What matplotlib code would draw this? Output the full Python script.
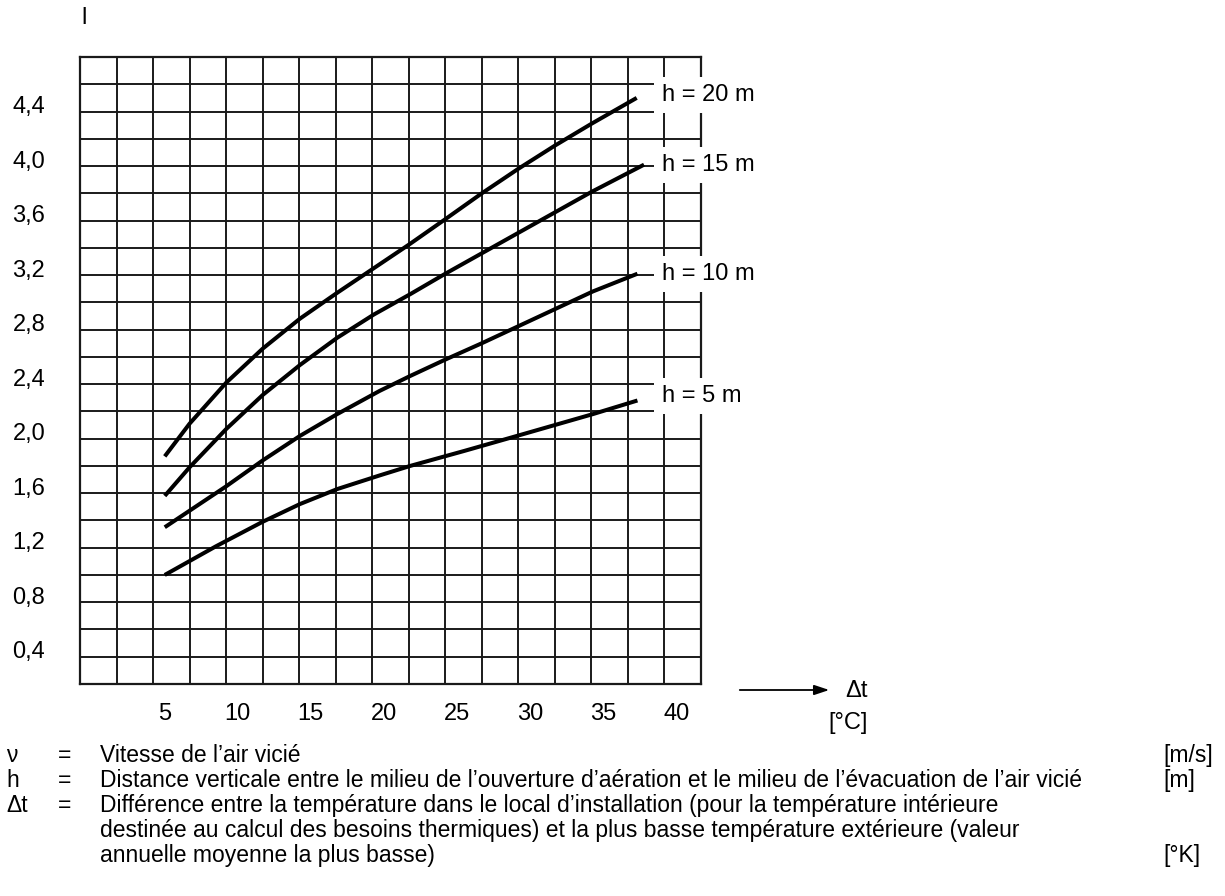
import numpy as np
import matplotlib
matplotlib.use('Agg')
import matplotlib.pyplot as plt

plt.rcParams['font.family'] = ['Liberation Sans', 'DejaVu Sans']

#%% values

x_h20 = [5, 6.7, 9.2, 11.7, 14.25, 16.8, 19.3, 21.8, 24.2, 26.7, 29.2, 31.7, 34.2, 37.3]
y_h20 = [1.82, 2.06, 2.36, 2.61, 2.83, 3.02, 3.20, 3.38, 3.56, 3.75, 3.93, 4.10, 4.26, 4.45]

x_h15 = [5, 6.7, 9.2, 11.7, 14.25, 16.8, 19.3, 21.8, 24.2, 26.7, 29.2, 31.7, 34.2, 37.8]
y_h15 = [1.53, 1.74, 2.02, 2.27, 2.49, 2.69, 2.86, 3.01, 3.16, 3.31, 3.46, 3.61, 3.76, 3.96]

x_h10 = [5, 9.2, 11.7, 14.25, 16.8, 19.7, 21.8, 24.2, 26.7, 29.1, 31.7, 34.3, 37.35]
y_h10 = [1.30, 1.60, 1.79, 1.97, 2.13, 2.30, 2.41, 2.53, 2.65, 2.77, 2.90, 3.03, 3.16]

x_h5 = [5, 8.5, 11.7, 14.25, 16.8, 19.7, 21.8, 25.5, 29.1, 34.3, 37.35]
y_h5 = [0.95, 1.16, 1.34, 1.47, 1.58, 1.68, 1.75, 1.86, 1.97, 2.13, 2.23]

curve_labels = ['h = 20 m', 'h = 15 m', 'h = 10 m', 'h = 5 m']
label_y = [4.47, 3.96, 3.16, 2.26]

x_ticks = [5, 10, 15, 20, 25, 30, 35, 40]
y_ticks = [0.4, 0.8, 1.2, 1.6, 2.0, 2.4, 2.8, 3.2, 3.6, 4.0, 4.4]
y_tick_labels = ['0,4', '0,8', '1,2', '1,6', '2,0', '2,4', '2,8', '3,2', '3,6', '4,0', '4,4']

notes_sym = ['\u03bd', 'h', '\u0394t', '', '']
notes_txt = ['Vitesse de l\u2019air vici\u00e9',
             'Distance verticale entre le milieu de l\u2019ouverture d\u2019a\u00e9ration et le milieu de l\u2019\u00e9vacuation de l\u2019air vici\u00e9',
             'Diff\u00e9rence entre la temp\u00e9rature dans le local d\u2019installation (pour la temp\u00e9rature int\u00e9rieure',
             'destin\u00e9e au calcul des besoins thermiques) et la plus basse temp\u00e9rature ext\u00e9rieure (valeur',
             'annuelle moyenne la plus basse)']
notes_unit = ['[m/s]', '[m]', '', '', '[\u00b0K]']

#%% figure

W, H = 1225, 896
fig = plt.figure(figsize=(W / 100, H / 100), dpi=100)
ax = fig.add_axes([80 / W, 1 - 684 / H, 621 / W, 627 / H])

x_min, x_max = -0.8, 41.7
y_min, y_max = 0.15, 4.75
ax.set_xlim(x_min, x_max)
ax.set_ylim(y_min, y_max)

# grid: 17 columns of 2.5, 23 rows of 0.2
for gx in np.arange(x_min, x_max + 0.01, 2.5):
    ax.axvline(gx, color='#1a1a1a', lw=1.4, zorder=1)
for gy in np.arange(y_min, y_max + 0.01, 0.2):
    ax.axhline(gy, color='#1a1a1a', lw=1.4, zorder=1)

for s in ax.spines.values():
    s.set_linewidth(1.6)
    s.set_color('#1a1a1a')

curves = [(x_h20, y_h20), (x_h15, y_h15), (x_h10, y_h10), (x_h5, y_h5)]
for (cx, cy), lab, ly in zip(curves, curve_labels, label_y):
    ax.plot(cx, cy, color='black', lw=2.9, solid_capstyle='butt',
            solid_joinstyle='round', zorder=3)
    ax.text(39.0, ly, lab, fontsize=17, va='center', ha='left', zorder=5,
            clip_on=False,
            bbox=dict(boxstyle='square,pad=0.3', fc='white', ec='none'))

ax.set_xticks(x_ticks)
ax.set_xticklabels([str(v) for v in x_ticks], fontsize=17)
ax.set_yticks(y_ticks)
ax.set_yticklabels(y_tick_labels, fontsize=17)
ax.tick_params(axis='x', length=0, pad=14)
ax.tick_params(axis='y', length=0, pad=25)

# y axis symbol at top
fig.text(81 / W, 1 - 18 / H, 'l', fontsize=17, va='center', ha='left')

# arrow and Δt label
ax.annotate('', xy=(832 / W, 1 - 690 / H), xytext=(737 / W, 1 - 690 / H),
            xycoords='figure fraction', textcoords='figure fraction',
            arrowprops=dict(arrowstyle='-|>,head_length=0.9,head_width=0.3',
                            color='black', lw=1.3))
fig.text(868 / W, 1 - 691 / H, '\u0394t', fontsize=17, va='center', ha='right')
fig.text(868 / W, 1 - 723 / H, '[\u00b0C]', fontsize=17, va='center', ha='right')

# footnote
row_y = [755, 780, 805, 830, 855]
for i in range(5):
    yy = 1 - row_y[i] / H
    if notes_sym[i]:
        fig.text(6 / W, yy, notes_sym[i], fontsize=16.5, va='center', ha='left')
        fig.text(58 / W, yy, '=', fontsize=16.5, va='center', ha='left')
    fig.text(100 / W, yy, notes_txt[i], fontsize=16.5, va='center', ha='left')
    if notes_unit[i]:
        fig.text(1163 / W, yy, notes_unit[i], fontsize=16.5, va='center', ha='left')

plt.savefig('out.png', dpi=100)
